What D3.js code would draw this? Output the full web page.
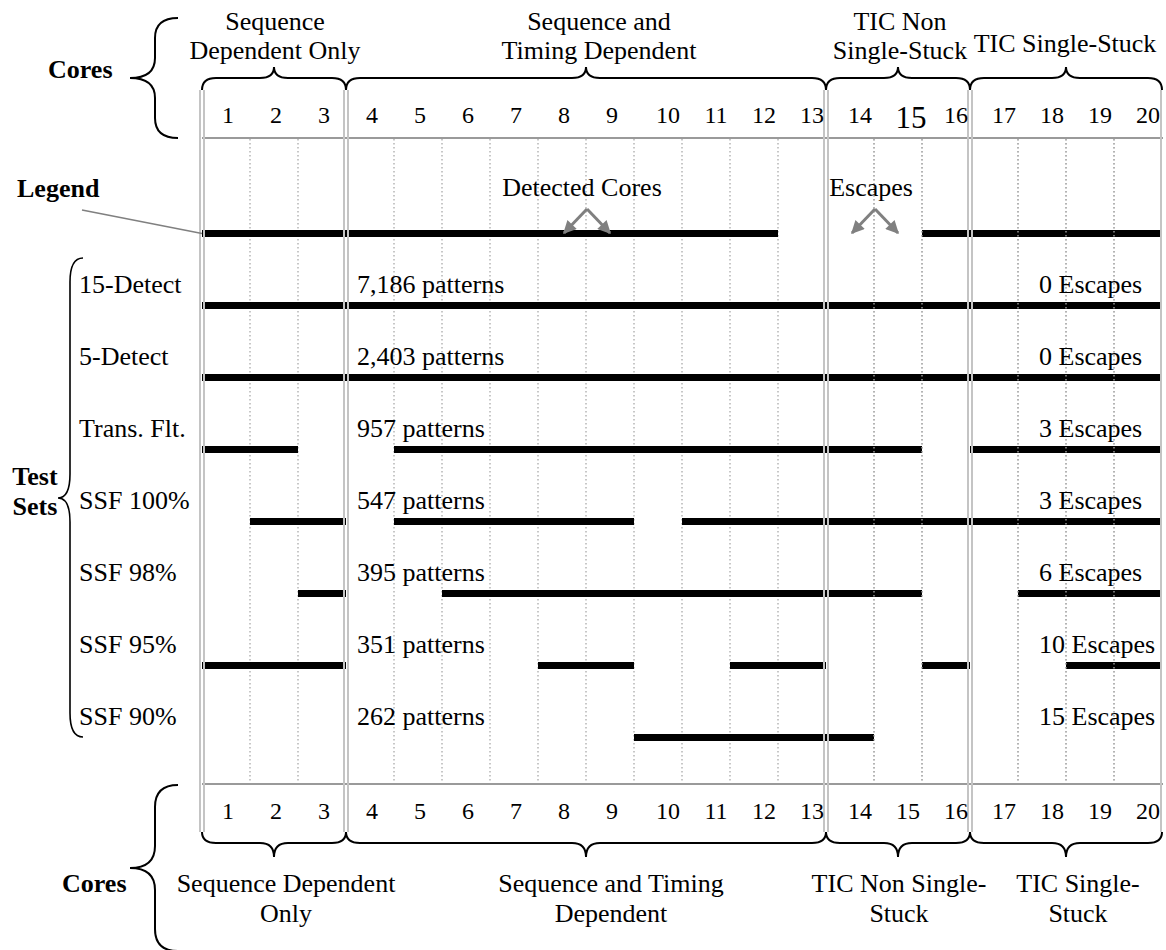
<!DOCTYPE html>
<html><head><meta charset="utf-8">
<script src="https://cdn.jsdelivr.net/npm/d3@7"></script>
<style>
body{margin:0;background:#fff}
svg{display:block}
text{font-family:"Liberation Serif","Times New Roman",serif;fill:#000}
</style>
</head><body>
<svg id="c" width="1166" height="950"></svg>
<script>
// ---------------- data ----------------
const cores = [1,2,3,4,5,6,7,8,9,10,11,12,13,14,15,16,17,18,19,20];
const groupFirst = [1, 4, 14, 17];
const groupLast  = [3, 13, 16, 20];
const topGroupLines = [["Sequence","Dependent Only"],["Sequence and","Timing Dependent"],["TIC Non","Single-Stuck"],["TIC Single-Stuck"]];
const bottomGroupLines = [["Sequence Dependent","Only"],["Sequence and Timing","Dependent"],["TIC Non Single-","Stuck"],["TIC Single-","Stuck"]];
const testSets = ["15-Detect","5-Detect","Trans. Flt.","SSF 100%","SSF 98%","SSF 95%","SSF 90%"];
const patterns = [7186, 2403, 957, 547, 395, 351, 262];
const escapes  = [0, 0, 3, 3, 6, 10, 15];
// runs of detected cores [first, last]
const detectedRuns = [
  [[1,20]],
  [[1,20]],
  [[1,2],[5,15],[17,20]],
  [[2,3],[5,9],[11,20]],
  [[3,3],[6,15],[18,20]],
  [[1,3],[8,9],[12,13],[16,16],[19,20]],
  [[10,14]]
];
const legendRuns = [[1,12],[16,20]];
const legendNotes = ["Detected Cores","Escapes"];

// ---------------- layout ----------------
const svg = d3.select("#c");
const x = d3.scaleLinear().domain([0, cores.length]).range([202, 1162]);
const rowKeys = ["Legend", ...testSets];
const y = d3.scalePoint().domain(rowKeys).range([233.5, 737.5]);
const FS = 26;
const gridTop = 138, gridBot = 784, dblTop = 90, dblBot = 832;
const boundaries = [0, ...groupLast.slice(0, -1)];

// dotted column lines (under bars)
const inner = cores.slice(0, -1).filter(c => !boundaries.includes(c));
function dotted(g, list){
  g.selectAll("line").data(list).join("line")
    .attr("x1", d => x(d)).attr("x2", d => x(d))
    .attr("y1", gridTop + 1).attr("y2", gridBot - 1)
    .attr("stroke", "#aaa").attr("stroke-width", 1.3)
    .attr("stroke-dasharray", "1.5,2.5");
}
dotted(svg.append("g"), inner);

// horizontal header lines
svg.append("g").selectAll("line").data([gridTop, gridBot]).join("line")
  .attr("x1", x(0)).attr("x2", x(cores.length) + 1)
  .attr("y1", d => d).attr("y2", d => d)
  .attr("stroke", "#9a9a9a").attr("stroke-width", 2);

// bars
const barH = 7;
const allRows = [{key: "Legend", runs: legendRuns}, ...testSets.map((t, i) => ({key: t, runs: detectedRuns[i]}))];
svg.append("g").selectAll("g").data(allRows).join("g")
  .selectAll("rect").data(r => r.runs.map(run => ({key: r.key, run}))).join("rect")
  .attr("x", d => x(d.run[0] - 1))
  .attr("width", d => x(d.run[1]) - x(d.run[0] - 1))
  .attr("y", d => y(d.key) - barH / 2)
  .attr("height", barH)
  .attr("fill", "#000");

// dotted lines showing over bars on the right part
dotted(svg.append("g"), inner.filter(c => c >= 14 && c !== 16));

// double vertical separators (over bars)
const dbl = svg.append("g");
boundaries.forEach(b => {
  [-2, 2].forEach(o => dbl.append("line")
    .attr("x1", x(b) + o).attr("x2", x(b) + o)
    .attr("y1", dblTop).attr("y2", dblBot)
    .attr("stroke", "#c4c4c4").attr("stroke-width", 2));
});
dbl.append("line").attr("x1", x(cores.length) - 1).attr("x2", x(cores.length) - 1)
  .attr("y1", dblTop).attr("y2", dblBot)
  .attr("stroke", "#c4c4c4").attr("stroke-width", 2);

// core numbers top and bottom
function coreLabels(base, top){
  svg.append("g").selectAll("text").data(cores).join("text")
    .attr("x", d => x(d - 0.5) + (d >= 10 ? (top && d === 15 ? 13 : 10) : 2))
    .attr("y", d => base + (top && d === 15 ? 5 : 0))
    .attr("text-anchor", "middle")
    .attr("font-size", d => (top && d === 15) ? 31 : 24)
    .text(d => d);
}
coreLabels(123, true);
coreLabels(819, false);

// braces
function hBrace(x0, x1, yEnd, yMid, yTip, r){
  const xc = (x0 + x1) / 2;
  return `M${x0},${yEnd} Q${x0},${yMid} ${x0 + r},${yMid} L${xc - r},${yMid} Q${xc},${yMid} ${xc},${yTip} Q${xc},${yMid} ${xc + r},${yMid} L${x1 - r},${yMid} Q${x1},${yMid} ${x1},${yEnd}`;
}
function vBrace(y0, y1, xEnd, xMid, xTip, r, yc){
  if (yc === undefined) yc = (y0 + y1) / 2;
  return `M${xEnd},${y0} Q${xMid},${y0} ${xMid},${y0 + r} L${xMid},${yc - r} Q${xMid},${yc} ${xTip},${yc} Q${xMid},${yc} ${xMid},${yc + r} L${xMid},${y1 - r} Q${xMid},${y1} ${xEnd},${y1}`;
}
const braces = svg.append("g").attr("fill", "none").attr("stroke", "#000").attr("stroke-width", 2);
groupFirst.forEach((f, i) => {
  const x0 = x(f - 1), x1 = x(groupLast[i]);
  braces.append("path").attr("d", hBrace(x0, x1, 90, 78, 67, 14));
  braces.append("path").attr("d", hBrace(x0, x1, 832, 843, 857, 14));
});
braces.append("path").attr("d", vBrace(18, 138, 178, 155, 130, 20));
braces.append("path").attr("d", vBrace(785, 951, 178, 155, 130, 22));
braces.append("path").attr("stroke-width", 1.6).attr("d", vBrace(258, 737, 83, 70, 58, 24, 498));

// group labels
const topDx = [1, 13, 2, -1];
const botDx = [12, 25, 1, 12];
groupFirst.forEach((f, i) => {
  const xc = (x(f - 1) + x(groupLast[i])) / 2;
  const lines = topGroupLines[i];
  const bases = lines.length === 1 ? [52] : [30, 59];
  lines.forEach((t, j) => svg.append("text").attr("x", xc + topDx[i]).attr("y", bases[j])
    .attr("text-anchor", "middle").attr("font-size", FS).text(t));
  bottomGroupLines[i].forEach((t, j) => svg.append("text").attr("x", xc + botDx[i]).attr("y", [892, 922][j])
    .attr("text-anchor", "middle").attr("font-size", FS).text(t));
});

// bold side titles
const bold = svg.append("g").attr("font-weight", "bold").attr("font-size", FS);
bold.append("text").attr("x", 48).attr("y", 78).text("Cores");
bold.append("text").attr("x", 62).attr("y", 892).text("Cores");
bold.append("text").attr("x", 17).attr("y", 197).text("Legend");
bold.append("text").attr("x", 35).attr("y", 485).attr("text-anchor", "middle").text("Test");
bold.append("text").attr("x", 35).attr("y", 515).attr("text-anchor", "middle").text("Sets");

// legend connector
svg.append("line").attr("x1", 82).attr("y1", 210).attr("x2", x(0)).attr("y2", y("Legend"))
  .attr("stroke", "#808080").attr("stroke-width", 1.6);

// legend arrows
const defs = svg.append("defs");
defs.append("marker").attr("id", "ah").attr("viewBox", "0 0 10 10")
  .attr("refX", 9).attr("refY", 5).attr("markerWidth", 15).attr("markerHeight", 13)
  .attr("markerUnits", "userSpaceOnUse").attr("orient", "auto")
  .append("path").attr("d", "M0,0 L10,5 L0,10 Z").attr("fill", "#808080");
const notePos = [8, 14];
const noteTextDx = [-5, -4];
legendNotes.forEach((t, i) => {
  const ax = x(notePos[i]) + 1;
  svg.append("text").attr("x", ax + noteTextDx[i]).attr("y", 196)
    .attr("text-anchor", "middle").attr("font-size", FS).text(t);
  [-23, 23].forEach(dx => svg.append("line")
    .attr("x1", ax).attr("y1", 209).attr("x2", ax + dx).attr("y2", 233)
    .attr("stroke", "#808080").attr("stroke-width", 3).attr("marker-end", "url(#ah)"));
});

// row texts
const fmt = d3.format(",");
const rows = svg.append("g").attr("font-size", FS);
testSets.forEach((t, i) => {
  const by = y(t) - 13;
  rows.append("text").attr("x", 79).attr("y", by).text(t);
  rows.append("text").attr("x", 357).attr("y", by).text(fmt(patterns[i]) + " patterns");
  rows.append("text").attr("x", 1039).attr("y", by).text(escapes[i] + " Escapes");
});
</script>
</body></html>
